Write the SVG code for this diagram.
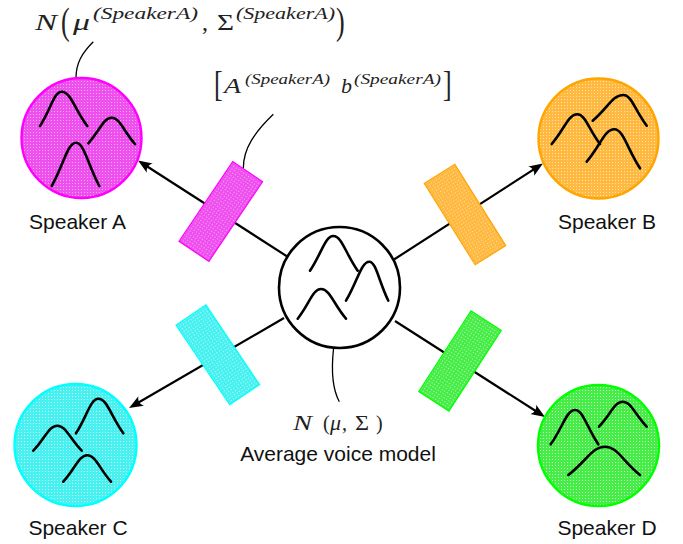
<svg xmlns="http://www.w3.org/2000/svg" width="683" height="544" viewBox="0 0 683 544">
<style>
.lbl{font-family:"Liberation Sans",Arial,sans-serif;font-size:21px;fill:#111;text-anchor:middle}
.m{font-family:"Liberation Serif","DejaVu Serif",serif;font-style:italic;fill:#222}
.mu{font-family:"Liberation Serif","DejaVu Serif",serif;fill:#222}
.g{fill:none;stroke:#000;stroke-width:2.6;stroke-linecap:round;stroke-linejoin:round}
.conn{fill:none;stroke:#000;stroke-width:2.2}
.ann{fill:none;stroke:#000;stroke-width:1.3}
</style>
<defs>
<pattern id="pM" width="3" height="3" patternUnits="userSpaceOnUse"><rect width="3" height="3" fill="#ee50ee"/><rect width="1" height="1" fill="#ffa8ff"/></pattern>
<pattern id="pO" width="3" height="3" patternUnits="userSpaceOnUse"><rect width="3" height="3" fill="#ffb840"/><rect width="1" height="1" fill="#ffe2a8"/></pattern>
<pattern id="pC" width="3" height="3" patternUnits="userSpaceOnUse"><rect width="3" height="3" fill="#48f0f0"/><rect width="1" height="1" fill="#b8ffff"/></pattern>
<pattern id="pG" width="3" height="3" patternUnits="userSpaceOnUse"><rect width="3" height="3" fill="#48ec48"/><rect width="1" height="1" fill="#b8ffb8"/></pattern>
<marker id="arr" markerUnits="userSpaceOnUse" markerWidth="14" markerHeight="12" viewBox="0 0 14 12" refX="10" refY="6" orient="auto"><path d="M14,6 L0,0.5 C3,4 3,8 0,11.5 Z" fill="#000"/></marker>
</defs>
<rect width="683" height="544" fill="#fff"/>

<g id="connectors">
<path class="conn" d="M288,257 L141.4,162.7" marker-end="url(#arr)"/>
<path class="conn" d="M394,259.5 L539.6,165.7" marker-end="url(#arr)"/>
<path class="conn" d="M284,318 L132.5,406" marker-end="url(#arr)"/>
<path class="conn" d="M395,321 L541.6,414.8" marker-end="url(#arr)"/>
<path class="ann" d="M93.3,41.7 C82,53 76,63 76,78"/>
<path class="ann" d="M273.3,114.3 C255,132 243.3,148 243.3,168.3"/>
<path class="ann" d="M333.5,349 C331,372 333,390 339.3,401.7"/>
</g>

<g id="transformA"><rect x="-18" y="-48" width="36" height="96" transform="translate(220.8,211.5) rotate(34)" fill="url(#pM)" stroke="#ff00ff" stroke-width="1.2"/></g>
<g id="transformB"><rect x="-18" y="-48" width="36" height="96" transform="translate(465,214.5) rotate(-32)" fill="url(#pO)" stroke="#ffa500" stroke-width="1.2"/></g>
<g id="transformC"><rect x="-18" y="-48" width="36" height="96" transform="translate(217.8,354.8) rotate(-34)" fill="url(#pC)" stroke="#00ffff" stroke-width="1.2"/></g>
<g id="transformD"><rect x="-18" y="-48" width="36" height="96" transform="translate(460,361) rotate(33)" fill="url(#pG)" stroke="#00ff00" stroke-width="1.2"/></g>

<g id="average">
<circle cx="339.5" cy="287.5" r="60.5" fill="#fff" stroke="#000" stroke-width="2.6"/>
<path class="g" d="M310,270.7 C321.7,253.4 325.1,236 333.3,236 C341.8,236 345.5,253.4 357.7,270.7"/>
<path class="g" d="M346,300.7 C357.7,281.2 361.1,261.7 369.3,261.7 C376,261.7 378.8,281.2 388.3,300.7"/>
<path class="g" d="M297.7,318.7 C309.4,303.9 312.8,289 321,289 C329.8,289 333.5,303.9 346,318.7"/>
<text class="m" x="293" y="430" font-size="20" textLength="19" lengthAdjust="spacingAndGlyphs">N</text>
<text class="mu" x="323" y="430" font-size="20">(</text>
<text class="m" x="330" y="430" font-size="20" textLength="11" lengthAdjust="spacingAndGlyphs">μ</text>
<text class="mu" x="342" y="430" font-size="20">,</text>
<text class="mu" x="355" y="430" font-size="20" textLength="14" lengthAdjust="spacingAndGlyphs">Σ</text>
<text class="mu" x="376" y="430" font-size="20">)</text>
<text class="lbl" x="338" y="461">Average voice model</text>
</g>

<g id="speakerA">
<circle cx="81.5" cy="138" r="60" fill="url(#pM)" stroke="#ff00ff" stroke-width="2.4"/>
<path class="g" d="M40,126 C50.9,108.9 54.1,91.7 61.7,91.7 C70.7,91.7 74.5,108.9 87.3,126"/>
<path class="g" d="M88.3,143.3 C100,130.5 103.5,117.7 111.7,117.7 C119.9,117.7 123.4,130.9 135,144"/>
<path class="g" d="M51.7,186 C63.9,164.4 67.5,142.7 76,142.7 C84.2,142.7 87.7,164.4 99.3,186"/>
<text class="lbl" x="77.5" y="229">Speaker A</text>
</g>

<g id="speakerB">
<circle cx="598.5" cy="138.5" r="60" fill="url(#pO)" stroke="#ffa500" stroke-width="2.4"/>
<path class="g" d="M551.7,144 C564.5,129.2 568.3,114.3 577.3,114.3 C585.2,114.3 588.7,129.2 600,144"/>
<path class="g" d="M592.7,120.7 C608,107.9 612.6,95 623.3,95 C631.5,95 635,110.4 646.7,125.7"/>
<path class="g" d="M586.7,161.7 C600.5,145.5 604.6,129.3 614.3,129.3 C623.3,129.3 627.2,148.8 640,168.3"/>
<text class="lbl" x="607" y="229">Speaker B</text>
</g>

<g id="speakerC">
<circle cx="75.5" cy="445" r="61" fill="url(#pC)" stroke="#00ffff" stroke-width="2.4"/>
<path class="g" d="M33.3,450.7 C45.3,438.2 48.9,425.7 57.3,425.7 C65.8,425.7 69.5,438.2 81.7,450.7"/>
<path class="g" d="M76,433.3 C87.2,416 90.5,398.7 98.3,398.7 C107.1,398.7 110.8,416 123.3,433.3"/>
<path class="g" d="M63.3,481.7 C75.3,468.5 78.9,455.3 87.3,455.3 C95.6,455.3 99.2,468.5 111,481.7"/>
<text class="lbl" x="78" y="535">Speaker C</text>
</g>

<g id="speakerD">
<circle cx="598.5" cy="445.5" r="60.5" fill="url(#pG)" stroke="#00ff00" stroke-width="2.4"/>
<path class="g" d="M550.7,444.3 C562.9,427.2 566.5,410 575,410 C583.2,410 586.7,427.2 598.3,444.3"/>
<path class="g" d="M599,426.7 C610.9,414.2 614.4,401.7 622.7,401.7 C631.1,401.7 634.7,414.2 646.7,426.7"/>
<path class="g" d="M568.3,475 C586.7,460.9 592.2,446.7 605,446.7 C617.3,446.7 622.5,460.9 640,475"/>
<text class="lbl" x="607" y="535">Speaker D</text>
</g>

<g id="formulaA">
<text class="m" x="35" y="30" font-size="24" textLength="22" lengthAdjust="spacingAndGlyphs">N</text>
<text class="mu" font-size="26" transform="translate(61,33.5) scale(1,1.45)">(</text>
<text class="m" x="73" y="30" font-size="24" textLength="17" lengthAdjust="spacingAndGlyphs">μ</text>
<text class="m" x="93" y="19" font-size="16" textLength="105" lengthAdjust="spacingAndGlyphs">(SpeakerA)</text>
<text class="mu" x="202" y="30" font-size="24">,</text>
<text class="mu" x="217" y="30" font-size="24" textLength="17" lengthAdjust="spacingAndGlyphs">Σ</text>
<text class="m" x="236" y="19" font-size="16" textLength="99" lengthAdjust="spacingAndGlyphs">(SpeakerA)</text>
<text class="mu" font-size="26" transform="translate(336,33.5) scale(1,1.45)">)</text>
</g>

<g id="formulaT">
<text class="mu" font-size="26" transform="translate(214,95.5) scale(1,1.4)">[</text>
<text class="m" x="224" y="93" font-size="22" textLength="17" lengthAdjust="spacingAndGlyphs">A</text>
<text class="m" x="245" y="84" font-size="15" textLength="85" lengthAdjust="spacingAndGlyphs">(SpeakerA)</text>
<text class="m" x="341" y="93" font-size="22" textLength="11" lengthAdjust="spacingAndGlyphs">b</text>
<text class="m" x="354" y="84" font-size="15" textLength="87" lengthAdjust="spacingAndGlyphs">(SpeakerA)</text>
<text class="mu" font-size="26" transform="translate(443,95.5) scale(1,1.4)">]</text>
</g>
</svg>
